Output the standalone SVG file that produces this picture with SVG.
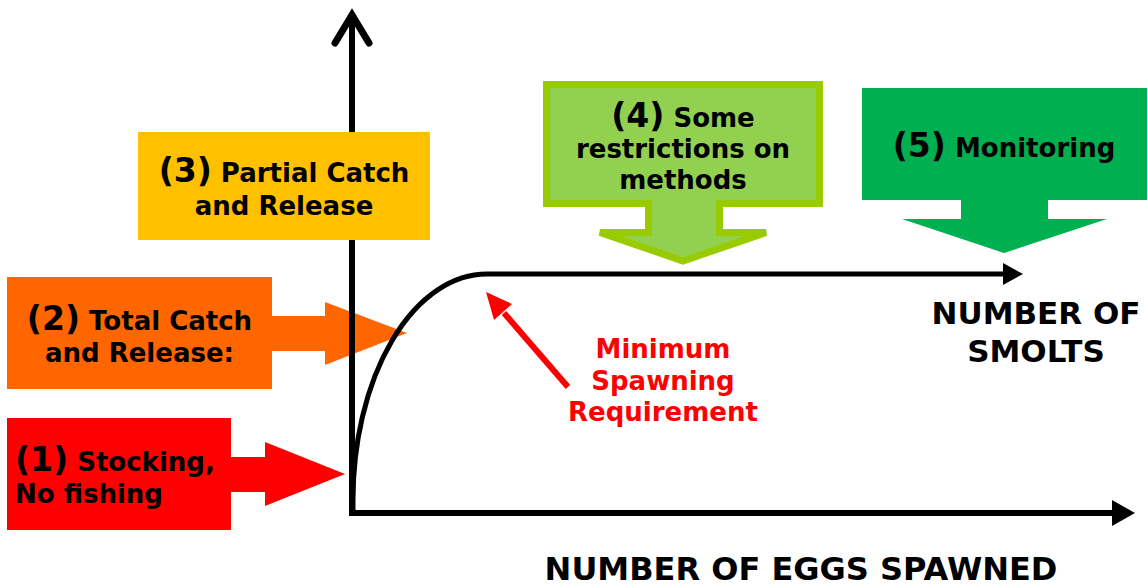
<svg xmlns="http://www.w3.org/2000/svg" width="1148" height="586" viewBox="0 0 1148 586">
  <style>
    text { font-family: "DejaVu Sans", Verdana, sans-serif; font-weight: bold; fill: #000; }
    .lbl { font-size: 26px; }
    .num { font-size: 33px; }
    .axis-lbl { font-size: 31px; text-anchor: middle; }
    .mid { text-anchor: middle; }
    .red { fill: #FF0000; }
    .axis { fill: none; stroke: #000; stroke-width: 6; }
  </style>
  <rect width="1148" height="586" fill="#fff"/>

  <!-- (1) stocking, pointing at the origin -->
  <g id="node-stocking">
    <path d="M7,418 H231 V457 H265 V442 L345,474 L265,506 V492 H231 V530 H7 Z" fill="#FF0000"/>
    <text class="lbl" x="15" y="471"><tspan class="num">(1)</tspan> Stocking,</text>
    <text class="lbl" x="15" y="503">No fishing</text>
  </g>

  <!-- (2) total catch and release -->
  <g id="node-total-catch">
    <path d="M7,277 H272 V316 H325 V302 L407,333 L325,365 V351 H272 V389 H7 Z" fill="#FF6600"/>
    <text class="lbl mid" x="139.5" y="330"><tspan class="num">(2)</tspan> Total Catch</text>
    <text class="lbl mid" x="139.5" y="362">and Release:</text>
  </g>

  <!-- axes, stock-recruitment curve and pointer -->
  <g id="connectors">
    <path class="axis" d="M352,14 V513 H1114" stroke-linejoin="miter"/>
    <polyline points="335,43 352,15 369,43" fill="none" stroke="#000" stroke-width="7" stroke-linecap="round" stroke-linejoin="miter"/>
    <polygon points="1112,500 1135,513 1112,526" fill="#000"/>
    <path d="M353,513 V500 A134,226 0 0 1 487,274 H1006" fill="none" stroke="#000" stroke-width="5"/>
    <polygon points="1003,263 1023,274 1003,285" fill="#000"/>
    <line x1="568" y1="387" x2="504" y2="313" stroke="#FF0000" stroke-width="6"/>
    <polygon points="486,292 512,304 494,320" fill="#FF0000"/>
  </g>

  <!-- (3) partial catch and release -->
  <g id="node-partial-catch">
    <rect x="138" y="132" width="292" height="108" fill="#FFC000"/>
    <text class="lbl mid" x="284" y="182"><tspan class="num">(3)</tspan> Partial Catch</text>
    <text class="lbl mid" x="284" y="215">and Release</text>
  </g>

  <!-- (4) some restrictions on methods -->
  <g id="node-restrictions">
    <path d="M546.5,84.5 H819.5 V203.5 H719.5 V232.5 H766 L683,261 L600,232.5 H648.5 V203.5 H546.5 Z" fill="#92D050" stroke="#99CC00" stroke-width="7"/>
    <text class="lbl mid" x="683" y="127"><tspan class="num">(4)</tspan> Some</text>
    <text class="lbl mid" x="683" y="158">restrictions on</text>
    <text class="lbl mid" x="683" y="189">methods</text>
  </g>

  <!-- (5) monitoring -->
  <g id="node-monitoring">
    <path d="M862,88 H1147 V200 H1048 V219 H1107 L1004,253 L902,219 H961 V200 H862 Z" fill="#00B050"/>
    <text class="lbl mid" x="1004" y="157"><tspan class="num">(5)</tspan> Monitoring</text>
  </g>

  <!-- annotations -->
  <g id="label-msr">
    <text class="lbl mid red" x="663" y="358">Minimum</text>
    <text class="lbl mid red" x="663" y="390">Spawning</text>
    <text class="lbl mid red" x="663" y="421">Requirement</text>
  </g>
  <g id="label-smolts">
    <text class="axis-lbl" x="1036" y="324">NUMBER OF</text>
    <text class="axis-lbl" x="1036" y="362">SMOLTS</text>
  </g>
  <g id="label-eggs">
    <text class="axis-lbl" x="801" y="580" style="font-size:32px">NUMBER OF EGGS SPAWNED</text>
  </g>
</svg>
